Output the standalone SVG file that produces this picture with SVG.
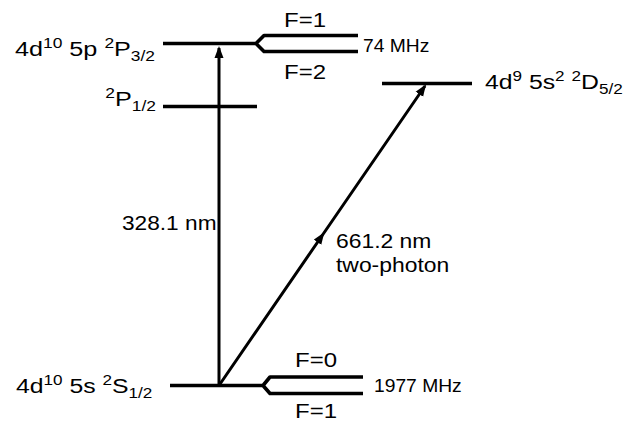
<svg xmlns="http://www.w3.org/2000/svg" width="637" height="421" viewBox="0 0 637 421">
  <style>
    .lvl { fill: none; stroke: #000; stroke-width: 3.6; stroke-linejoin: round; }
    .arr { fill: none; stroke: #000; stroke-width: 3; }
    text { font-family: "Liberation Sans", Arial, sans-serif; fill: #000; }
    .big { font-size: 21px; }
    .f { font-size: 20px; }
    .mhz { font-size: 18px; }
    .s { font-size: 14.5px; }
  </style>
  <defs>
    <marker id="ah" markerUnits="userSpaceOnUse" markerWidth="12" markerHeight="10" refX="10" refY="4.5" orient="auto" viewBox="0 0 12 9">
      <path d="M0,0 L12,4.5 L0,9 Z" fill="#000"/>
    </marker>
  </defs>
  <rect width="637" height="421" fill="#fff"/>

  <g id="level-5p-2P32">
    <path class="lvl" d="M163,43.5 H256 M256,43.5 L264,35.5 H358 M256,43.5 L264,51.5 H358"/>
    <text class="big" transform="translate(15,56) scale(1.2,1)">4d<tspan class="s" dy="-8">10</tspan><tspan dy="8"> 5p </tspan><tspan class="s" dy="-8">2</tspan><tspan dy="8">P</tspan><tspan class="s" dy="4.5">3/2</tspan></text>
    <text class="f" text-anchor="middle" transform="translate(305,27) scale(1.2,1)">F=1</text>
    <text class="f" text-anchor="middle" transform="translate(305,79) scale(1.2,1)">F=2</text>
    <text class="mhz" transform="translate(363,52) scale(1.07,1)">74 MHz</text>
  </g>

  <g id="level-2P12">
    <path class="lvl" d="M163,106.5 H257"/>
    <text class="big" text-anchor="end" transform="translate(156,106) scale(1.2,1)"><tspan class="s" dy="-8">2</tspan><tspan dy="8">P</tspan><tspan class="s" dy="4.5">1/2</tspan></text>
  </g>

  <g id="level-2D52">
    <path class="lvl" d="M382,83.5 H472"/>
    <text class="big" transform="translate(485,89) scale(1.18,1)">4d<tspan class="s" dy="-8">9</tspan><tspan dy="8"> 5s</tspan><tspan class="s" dy="-8">2</tspan><tspan dy="8"> </tspan><tspan class="s" dy="-8">2</tspan><tspan dy="8">D</tspan><tspan class="s" dy="4.5">5/2</tspan></text>
  </g>

  <g id="level-5s-2S12">
    <path class="lvl" d="M170,385.5 H263 M263,385.5 L270,377 H363 M263,385.5 L270,393.5 H363"/>
    <text class="big" transform="translate(16,393) scale(1.18,1)">4d<tspan class="s" dy="-8">10</tspan><tspan dy="8"> 5s </tspan><tspan class="s" dy="-8">2</tspan><tspan dy="8">S</tspan><tspan class="s" dy="4.5">1/2</tspan></text>
    <text class="f" text-anchor="middle" transform="translate(316,367) scale(1.2,1)">F=0</text>
    <text class="f" text-anchor="middle" transform="translate(316,418) scale(1.2,1)">F=1</text>
    <text class="mhz" transform="translate(374,392) scale(1.07,1)">1977 MHz</text>
  </g>

  <g id="connectors">
    <path class="arr" d="M219,385.5 V48" marker-end="url(#ah)"/>
    <path class="arr" d="M219,385.5 L323.2,234 L425,86" marker-mid="url(#ah)" marker-end="url(#ah)"/>
    <text class="big" transform="translate(122,230) scale(1.08,1)">328.1 nm</text>
    <text class="big" transform="translate(336,248) scale(1.09,1)">661.2 nm</text>
    <text class="big" transform="translate(336,272) scale(1.09,1)">two-photon</text>
  </g>
</svg>
